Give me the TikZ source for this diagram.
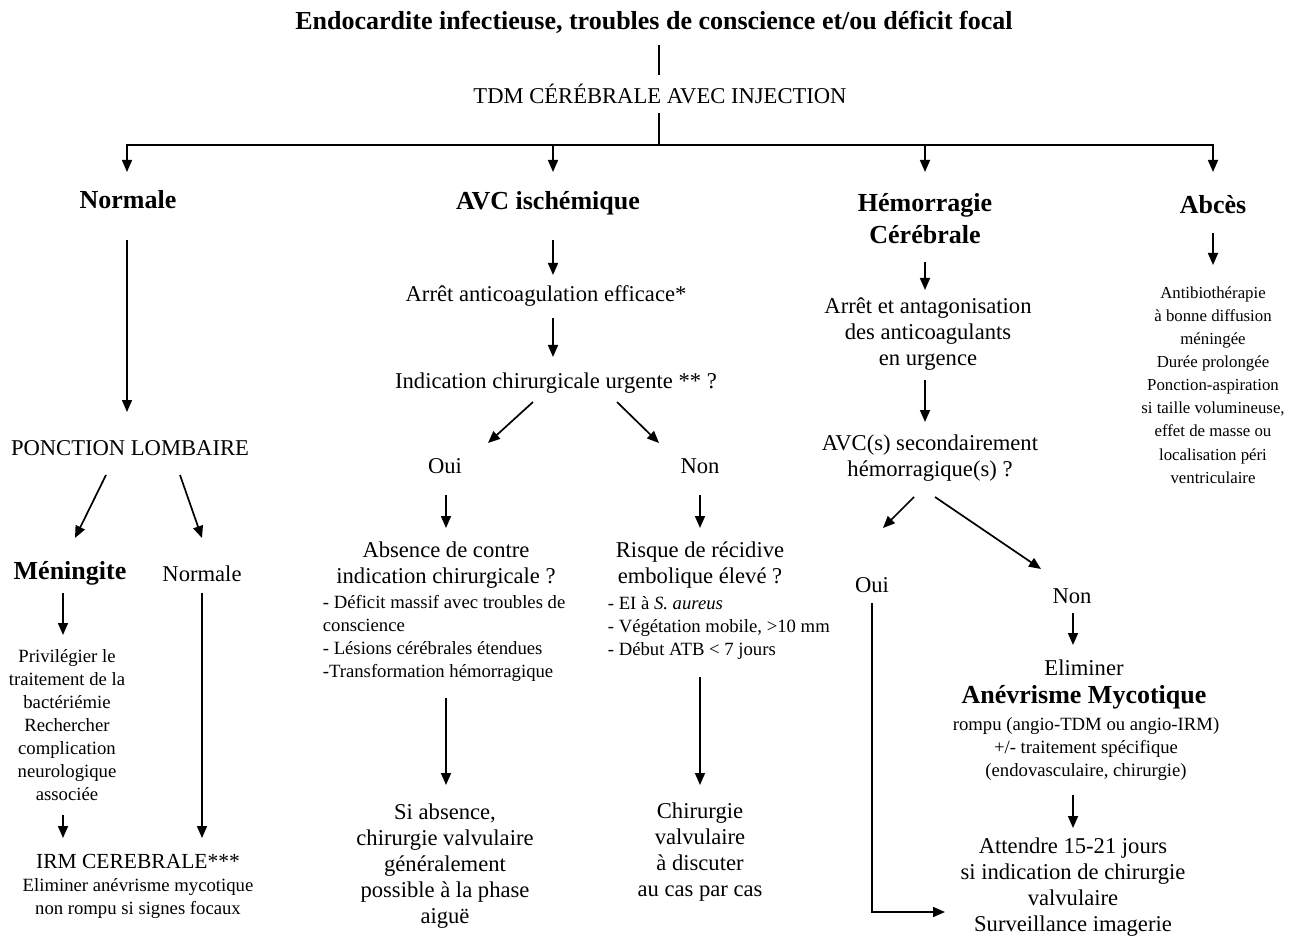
\documentclass[tikz,border=0pt]{standalone}
\usepackage{fontspec}
\setmainfont{Liberation Serif}
\usetikzlibrary{arrows.meta,calc}
\newcommand{\mainfs}{\fontsize{22.6}{26.2}\selectfont}
\newcommand{\smallfs}{\fontsize{18.7}{23}\selectfont}
\newcommand{\abcfs}{\fontsize{16.8}{23.1}\selectfont}
\newcommand{\headfs}{\fontsize{26}{32}\selectfont\bfseries}

\begin{document}
\begin{tikzpicture}[x=1pt,y=-1pt,line width=1.7pt]
  \tikzstyle{txt}=[inner sep=0pt,align=center,font=\mainfs]
  \tikzstyle{head}=[inner sep=0pt,align=center,font=\headfs]
  \tikzstyle{note}=[inner sep=0pt,align=center,font=\smallfs]
  \tikzstyle{abctxt}=[inner sep=0pt,align=center,font=\abcfs]
  \tikzstyle{list}=[inner sep=0pt,align=left,anchor=west,font=\smallfs]
  \tikzstyle{arr}=[-{Triangle[length=12pt,width=10pt]}]

  \useasboundingbox (0,0) rectangle (1291,941);

  \draw (654,22) node[head] (title) {Endocardite infectieuse, troubles de conscience et/ou déficit focal};
  \draw (660,94) node[txt] (tdm) {TDM CÉRÉBRALE AVEC INJECTION};

  \draw (128,200) node[head] (normale) {Normale};
  \draw (548,203) node[head] (avc) {AVC ischémique};
  \draw (925,219) node[head] (hem) {Hémorragie\\Cérébrale};
  \draw (1213,205) node[head] (abces) {Abcès};

  % normale
  \draw (130,448) node[txt] (ponction) {PONCTION LOMBAIRE};
  \draw (70,573) node[head] (mening) {Méningite};
  \draw (202,574) node[txt] (normale2) {Normale};
  \draw (67,725) node[note] (meningtxt) {Privilégier le\\traitement de la\\bactériémie\\Rechercher\\complication\\neurologique\\associée};
  \draw (138,886) node[note] (irm) {{\fontsize{21.5}{23}\selectfont IRM CEREBRALE***}\\Eliminer anévrisme mycotique\\non rompu si signes focaux};

  % avc ischemique
  \draw (546,296) node[txt] (arret) {Arrêt anticoagulation efficace*};
  \draw (556,383) node[txt] (indic) {Indication chirurgicale urgente ** ?};
  \draw (445,466) node[txt] (oui1) {Oui};
  \draw (700,466) node[txt] (non1) {Non};
  \draw (446,565) node[txt] (absence) {Absence de contre\\indication chirurgicale ?};
  \draw (322,638) node[list] (abslist) {- Déficit massif avec troubles de\\conscience\\- Lésions cérébrales étendues\\-Transformation hémorragique};
  \draw (445,866) node[txt] (siabs) {Si absence,\\chirurgie valvulaire\\généralement\\possible à la phase\\aiguë};
  \draw (700,565) node[txt] (risque) {Risque de récidive\\embolique élevé ?};
  \draw (607,628) node[list] (risklist) {- EI à \textit{S. aureus}\\- Végétation mobile, >10 mm\\- Début ATB < 7 jours};
  \draw (700,852) node[txt] (chir) {Chirurgie\\valvulaire\\à discuter\\au cas par cas};

  % hemorragie
  \draw (928,334) node[txt] (arret2) {Arrêt et antagonisation\\des anticoagulants\\en urgence};
  \draw (930,458) node[txt] (avcs) {AVC(s) secondairement\\hémorragique(s) ?};
  \draw (872,585) node[txt] (oui2) {Oui};
  \draw (1072,596) node[txt] (non2) {Non};
  \draw (1084,668) node[txt] (elim) {Eliminer};
  \draw (1084,697) node[head] (anev) {Anévrisme Mycotique};
  \draw (1086,749) node[note] (rompu) {rompu (angio-TDM ou angio-IRM)\\+/- traitement spécifique\\(endovasculaire, chirurgie)};
  \draw (1073,887) node[txt] (attendre) {Attendre 15-21 jours\\si indication de chirurgie\\valvulaire\\Surveillance imagerie};

  % abces
  \draw (1213,385) node[abctxt] (abcestxt) {Antibiothérapie\\à bonne diffusion\\méningée\\Durée prolongée\\Ponction-aspiration\\si taille volumineuse,\\effet de masse ou\\localisation péri\\ventriculaire};

  \draw ($(title)+(5,23)$) -- ($(tdm)+(-1,-19)$);
  \draw ($(tdm)+(-1,19)$) -- ($(tdm)+(-1,51)$) coordinate (bus);
  \draw[arr] (bus) -| ($(normale)+(-1,-28)$);
  \draw[arr] (bus) -| ($(avc)+(5,-31)$);
  \draw[arr] (bus) -| ($(hem)+(0,-47)$);
  \draw[arr] (bus) -| ($(abces)+(0,-33)$);

  \draw[arr] ($(normale)+(-1,40)$) -- ($(ponction)+(-3,-36)$);
  \draw[arr] ($(ponction)+(-24,27)$) -- ($(mening)+(5,-35)$);
  \draw[arr] ($(ponction)+(50,27)$) -- ($(normale2)+(0,-36)$);
  \draw[arr] ($(mening)+(-7,20)$) -- ($(meningtxt)+(-4,-90)$);
  \draw[arr] ($(meningtxt)+(-4,90)$) -- ($(irm)+(-75,-48)$);
  \draw[arr] ($(normale2)+(0,19)$) -- ($(irm)+(64,-48)$);

  \draw[arr] ($(avc)+(5,37)$) -- ($(arret)+(7,-21)$);
  \draw[arr] ($(arret)+(7,22)$) -- ($(indic)+(-3,-26)$);
  \draw[arr] ($(indic)+(-23,19)$) -- ($(oui1)+(43,-23)$);
  \draw[arr] ($(indic)+(61,19)$) -- ($(non1)+(-41,-23)$);
  \draw[arr] ($(oui1)+(1,29)$) -- ($(absence)+(0,-37)$);
  \draw[arr] ($(non1)+(0,29)$) -- ($(risque)+(0,-37)$);
  \draw[arr] ($(abslist.west)+(124,60)$) -- ($(siabs)+(1,-81)$);
  \draw[arr] ($(risklist.west)+(93,49)$) -- ($(chir)+(0,-67)$);

  \draw[arr] ($(hem)+(0,43)$) -- ($(arret2)+(-3,-44)$);
  \draw[arr] ($(arret2)+(-3,46)$) -- ($(avcs)+(-5,-36)$);
  \draw[arr] ($(avcs)+(-16,39)$) -- ($(oui2)+(11,-57)$);
  \draw[arr] ($(avcs)+(5,39)$) -- ($(non2)+(-31,-27)$);
  \draw[arr] ($(oui2)+(0,18)$) |- ($(attendre)+(-128,25)$);
  \draw[arr] ($(non2)+(1,17)$) -- ($(elim)+(-11,-23)$);
  \draw[arr] ($(rompu)+(-13,46)$) -- ($(attendre)+(0,-59)$);

  \draw[arr] ($(abces)+(0,28)$) -- ($(abcestxt)+(0,-120)$);
\end{tikzpicture}
\end{document}
